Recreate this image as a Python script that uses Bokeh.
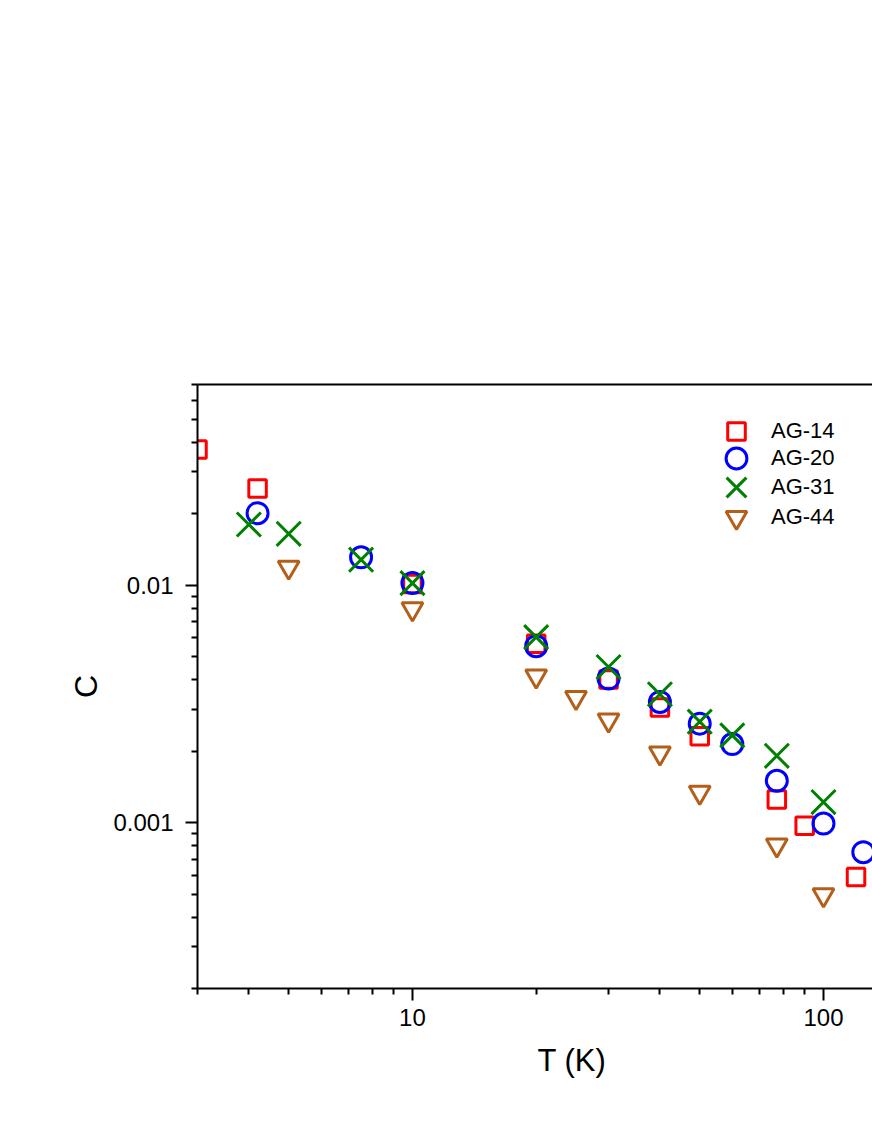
from bokeh.plotting import figure
from bokeh.models import FixedTicker, NumeralTickFormatter, LogAxis, Legend, LegendItem, Title
from bokeh.embed import file_html
from bokeh.resources import INLINE

# ---- data ----
T14 = [3, 4.2, 10, 20, 30, 40, 50, 77, 90, 120]
C14 = [0.0373, 0.0255, 0.0101, 0.00566, 0.0040, 0.00305, 0.00231, 0.00125, 0.00097, 0.00059]
T20 = [4.2, 7.5, 10, 20, 30, 40, 50, 60, 77, 100, 125]
C20 = [0.0201, 0.0131, 0.0102, 0.00553, 0.00404, 0.00322, 0.00261, 0.00214, 0.00150, 0.00099, 0.00075]
T31 = [4, 5, 7.5, 10, 20, 30, 40, 50, 60, 77, 100]
C31 = [0.0180, 0.01645, 0.0128, 0.0102, 0.00604, 0.00452, 0.00347, 0.00266, 0.00233, 0.00191, 0.00122]
T44 = [5, 10, 20, 25, 30, 40, 50, 77, 100]
C44 = [0.0119, 0.00795, 0.00414, 0.00336, 0.00270, 0.00196, 0.00134, 0.000803, 0.000496]

series_names = ["AG-14", "AG-20", "AG-31", "AG-44"]

x_major = [10, 100]
x_minor = [3, 4, 5, 6, 7, 8, 9, 20, 30, 40, 50, 60, 70, 80, 90, 200]
y_major = [0.001, 0.01]
y_minor = [0.0002, 0.0003, 0.0004, 0.0005, 0.0006, 0.0007, 0.0008, 0.0009,
           0.002, 0.003, 0.004, 0.005, 0.006, 0.007, 0.008, 0.009,
           0.02, 0.03, 0.04, 0.05, 0.06, 0.07]

FONT = "Liberation Sans"
BORDER_L, BORDER_T, BORDER_B = 197, 384, 132
W, H = 872, 1120

p = figure(width=W, height=H, x_axis_type="log", y_axis_type="log",
           x_range=(3, 131.6), y_range=(0.0002, 0.07),
           output_backend="svg", toolbar_location=None,
           min_border_left=BORDER_L, min_border_right=0,
           min_border_top=BORDER_T, min_border_bottom=BORDER_B)
p.outline_line_color = None
p.xgrid.visible = False
p.ygrid.visible = False
p.background_fill_color = "white"
p.border_fill_color = "white"

LW = 3
r14 = p.scatter(T14, C14, marker="square", size=17.5, fill_color=None, line_color="#FF0000", line_width=LW)
r20 = p.scatter(T20, C20, marker="circle", size=21, fill_color=None, line_color="#0000FF", line_width=LW)
r31 = p.scatter(T31, C31, marker="x", size=34, line_color="#008000", line_width=LW)
r44 = p.scatter(T44, C44, marker="inverted_triangle", size=21, fill_color=None, line_color="#B35F1A", line_width=LW)

for ax in (p.xaxis[0], p.yaxis[0]):
    ax.axis_line_width = 2
    ax.major_tick_line_width = 2
    ax.minor_tick_line_width = 2
    ax.major_tick_in = 0
    ax.major_tick_out = 12
    ax.minor_tick_in = 0
    ax.minor_tick_out = 6
    ax.major_label_text_font = FONT
    ax.major_label_text_font_size = "24px"
    ax.major_label_text_color = "black"
    ax.axis_label_text_font = FONT
    ax.axis_label_text_font_style = "normal"
    ax.axis_label_text_font_size = "32px"
    ax.axis_label_text_color = "black"

p.xaxis[0].ticker = FixedTicker(ticks=x_major, minor_ticks=x_minor)
p.xaxis[0].formatter = NumeralTickFormatter(format="0")
p.xaxis[0].major_label_standoff = 8
p.yaxis[0].ticker = FixedTicker(ticks=y_major, minor_ticks=y_minor)
p.yaxis[0].formatter = NumeralTickFormatter(format="0.[000]")
p.yaxis[0].major_label_standoff = 12
p.yaxis[0].axis_label = "C"
p.yaxis[0].axis_label_standoff = 6

top = LogAxis(ticker=FixedTicker(ticks=[]), major_label_text_font_size="0px",
              axis_line_width=2, major_tick_line_color=None, minor_tick_line_color=None)
p.add_layout(top, "above")

xtitle = Title(text="T (K)", align="left", offset=340, standoff=25,
               text_font=FONT, text_font_size="31px", text_font_style="normal", text_color="black")
p.add_layout(xtitle, "below")

# one legend per entry so each marker can be drawn at its own size
renderers = [r14, r20, r31, r44]
boxes = [44, 52, 70, 52]          # legend glyph box -> marker size = 0.4 * box
centers = [431, 458, 487, 517]    # item centre rows (px from top)
GLYPH_CX, TEXT_X = 736, 771
frame_bottom = H - BORDER_B
for name, r, b, c in zip(series_names, renderers, boxes, centers):
    left = GLYPH_CX - b / 2
    standoff = max(0, TEXT_X - (left + b))
    lg = Legend(items=[LegendItem(label=name, renderers=[r])],
                location=(left - BORDER_L, frame_bottom - (c + b / 2)),
                orientation="vertical", border_line_color=None, background_fill_alpha=0,
                padding=0, margin=0, glyph_width=b, glyph_height=b, label_height=b,
                spacing=0, label_standoff=int(round(standoff)),
                label_text_font=FONT, label_text_font_size="22px", label_text_color="black")
    p.add_layout(lg)

open("out.html", "w").write(file_html(p, INLINE))
